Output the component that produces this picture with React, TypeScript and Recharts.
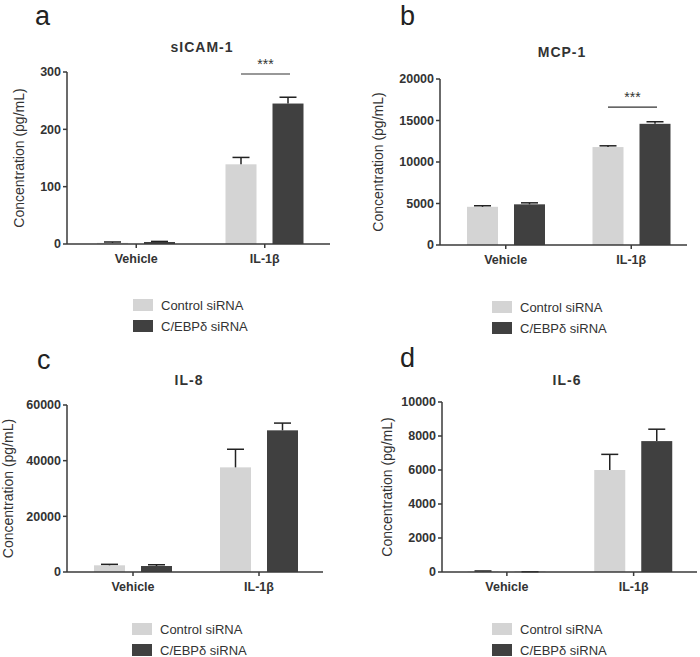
import { Bar, BarChart, Legend, XAxis, YAxis } from "recharts";

const FONT = '"Liberation Sans", Arial, Helvetica, sans-serif';
const INK = "#333";
const BAR_GAP = 16;

const groups = ["Vehicle", "IL-1β"];
const seriesNames = ["Control siRNA", "C/EBPδ siRNA"];
const seriesColors = ["#d4d4d4", "#404040"];

// sICAM-1 (pg/mL)
const sicamCtrl = [2, 139];
const sicamCtrlErr = [1.5, 12];
const sicamKd = [3.5, 245];
const sicamKdErr = [1, 11];
const sicamSig = [null, 296.5];

// MCP-1
const mcpCtrl = [4600, 11800];
const mcpCtrlErr = [130, 150];
const mcpKd = [4900, 14600];
const mcpKdErr = [180, 250];
const mcpSig = [null, 16600];

// IL-8
const il8Ctrl = [2400, 37600];
const il8CtrlErr = [350, 6500];
const il8Kd = [2150, 50900];
const il8KdErr = [450, 2600];

// IL-6
const il6Ctrl = [40, 6000];
const il6CtrlErr = [20, 920];
const il6Kd = [10, 7700];
const il6KdErr = [5, 700];

const makeRows = (
  ctrl: number[],
  ctrlErr: number[],
  kd: number[],
  kdErr: number[],
  sig: (number | null)[] = [null, null],
) =>
  groups.map((g, i) => ({
    group: g,
    ctrl: ctrl[i],
    ctrlErr: ctrlErr[i],
    kd: kd[i],
    kdErr: kdErr[i],
    sig: sig[i],
  }));

// bar + upper-only SEM whisker (GraphPad style); optional *** bracket over the pair
function barWithError(errKey: string, withSig = false) {
  return (props: any) => {
    const { x, y, width, height, fill, payload, value } = props;
    const v = Array.isArray(value) ? value[1] - value[0] : value;
    const perUnit = v > 0 ? height / v : 0;
    const err = payload?.[errKey] ?? 0;
    const e = err * perUnit;
    const cx = x + width / 2;
    const sig = withSig ? payload?.sig : null;
    let bracket = null;
    if (sig != null && perUnit > 0) {
      const sy = y + height - sig * perUnit;
      const x1 = cx - (width + BAR_GAP);
      const x2 = cx + 2;
      bracket = (
        <g>
          <line x1={x1} x2={x2} y1={sy} y2={sy} stroke="#333" strokeWidth={1.2} />
          <text
            x={(x1 + x2) / 2}
            y={sy - 5}
            textAnchor="middle"
            fontSize={14}
            fontFamily={FONT}
            fill={INK}
          >
            ***
          </text>
        </g>
      );
    }
    return (
      <g>
        <rect x={x} y={y} width={width} height={Math.max(height, 0)} fill={fill} />
        {e > 0 && (
          <g stroke="#222" strokeWidth={1.5}>
            <line x1={cx} x2={cx} y1={y} y2={y - e} />
            <line x1={cx - 8.5} x2={cx + 8.5} y1={y - e} y2={y - e} />
          </g>
        )}
        {bracket}
      </g>
    );
  };
}

const legendContent = (p: any) => {
  const items = [...(p.payload || [])].sort(
    (a: any, b: any) => seriesNames.indexOf(a.value) - seriesNames.indexOf(b.value),
  );
  return (
    <div style={{ fontFamily: FONT, fontSize: 13, color: INK }}>
      {items.map((it: any) => (
        <div key={it.value} style={{ display: "flex", alignItems: "center", height: 21 }}>
          <span
            style={{ display: "inline-block", width: 20, height: 12, background: it.color, marginRight: 8 }}
          />
          {it.value}
        </div>
      ))}
    </div>
  );
};

type PanelProps = {
  data: any[];
  left: number;
  top: number;
  height: number;
  margin: { top: number; right: number; bottom: number; left: number };
  yWidth: number;
  yMax: number;
  ticks: number[];
  pad: { left: number; right: number };
  labelOffset: number;
  legendPos: { left: number; top: number };
};

function Panel(p: PanelProps) {
  const axisStyle = { stroke: "#3a3a3a", strokeWidth: 1.5 };
  const tickFont = { fontSize: 12.5, fontWeight: 700, fill: INK, fontFamily: FONT };
  return (
    <div style={{ position: "absolute", left: p.left, top: p.top }}>
      <BarChart
        width={350}
        height={p.height}
        data={p.data}
        margin={p.margin}
        barSize={31}
        barGap={BAR_GAP}
      >
        <XAxis
          dataKey="group"
          height={30}
          padding={p.pad}
          axisLine={axisStyle}
          tickLine={axisStyle}
          tickSize={4}
          tickMargin={6}
          tick={tickFont}
        />
        <YAxis
          width={p.yWidth}
          domain={[0, p.yMax]}
          ticks={p.ticks}
          interval={0}
          axisLine={axisStyle}
          tickLine={axisStyle}
          tickSize={4}
          tickMargin={2}
          tick={tickFont}
          label={{
            value: "Concentration (pg/mL)",
            angle: -90,
            position: "insideLeft",
            offset: p.labelOffset,
            fill: INK,
            fontSize: 14,
            fontFamily: FONT,
            style: { textAnchor: "middle" },
          }}
        />
        <Legend
          layout="vertical"
          align="center"
          verticalAlign="middle"
          wrapperStyle={{ left: p.legendPos.left, top: p.legendPos.top, width: "auto" }}
          content={legendContent}
        />
        <Bar
          dataKey="ctrl"
          name={seriesNames[0]}
          fill={seriesColors[0]}
          shape={barWithError("ctrlErr")}
          isAnimationActive={false}
        />
        <Bar
          dataKey="kd"
          name={seriesNames[1]}
          fill={seriesColors[1]}
          shape={barWithError("kdErr", true)}
          isAnimationActive={false}
        />
      </BarChart>
    </div>
  );
}

const titles = [
  { letter: "a", lx: 35, ly: 25, title: "sICAM-1", tx: 202, ty: 52 },
  { letter: "b", lx: 400, ly: 25, title: "MCP-1", tx: 562, ty: 57 },
  { letter: "c", lx: 37, ly: 369, title: "IL-8", tx: 189, ty: 385 },
  { letter: "d", lx: 400, ly: 367, title: "IL-6", tx: 567, ty: 385 },
];

export default function App() {
  return (
    <div
      style={{
        position: "absolute",
        left: 0,
        top: 0,
        width: 700,
        height: 657,
        background: "#fff",
        fontFamily: FONT,
        overflow: "hidden",
      }}
    >
      <Panel
        data={makeRows(sicamCtrl, sicamCtrlErr, sicamKd, sicamKdErr, sicamSig)}
        left={0}
        top={0}
        height={340}
        margin={{ top: 72, right: 20, bottom: 66, left: 7 }}
        yWidth={60}
        yMax={300}
        ticks={[0, 100, 200, 300]}
        pad={{ left: 5, right: 1 }}
        labelOffset={12}
        legendPos={{ left: 133, top: 294.5 }}
      />
      <Panel
        data={makeRows(mcpCtrl, mcpCtrlErr, mcpKd, mcpKdErr, mcpSig)}
        left={350}
        top={0}
        height={340}
        margin={{ top: 79, right: 13, bottom: 65, left: 20 }}
        yWidth={70}
        yMax={20000}
        ticks={[0, 5000, 10000, 15000, 20000]}
        pad={{ left: 3, right: -7 }}
        labelOffset={8}
        legendPos={{ left: 142, top: 296.5 }}
      />
      <Panel
        data={makeRows(il8Ctrl, il8CtrlErr, il8Kd, il8KdErr)}
        left={0}
        top={330}
        height={327}
        margin={{ top: 75, right: 27, bottom: 55, left: 7 }}
        yWidth={60}
        yMax={60000}
        ticks={[0, 20000, 40000, 60000]}
        pad={{ left: 3, right: 1 }}
        labelOffset={1}
        legendPos={{ left: 132, top: 288.5 }}
      />
      <Panel
        data={makeRows(il6Ctrl, il6CtrlErr, il6Kd, il6KdErr)}
        left={350}
        top={330}
        height={327}
        margin={{ top: 72, right: 3, bottom: 55, left: 22 }}
        yWidth={70}
        yMax={10000}
        ticks={[0, 2000, 4000, 6000, 8000, 10000]}
        pad={{ left: 1.5, right: 0 }}
        labelOffset={15}
        legendPos={{ left: 142, top: 288.5 }}
      />
      <svg
        width={700}
        height={657}
        style={{ position: "absolute", left: 0, top: 0, pointerEvents: "none" }}
      >
        {titles.map((t) => (
          <g key={t.letter} fontFamily={FONT}>
            <text x={t.lx} y={t.ly} fontSize={27} fill="#222">
              {t.letter}
            </text>
            <text
              x={t.tx}
              y={t.ty}
              fontSize={14}
              fontWeight={700}
              letterSpacing={1}
              textAnchor="middle"
              fill={INK}
            >
              {t.title}
            </text>
          </g>
        ))}
      </svg>
    </div>
  );
}
